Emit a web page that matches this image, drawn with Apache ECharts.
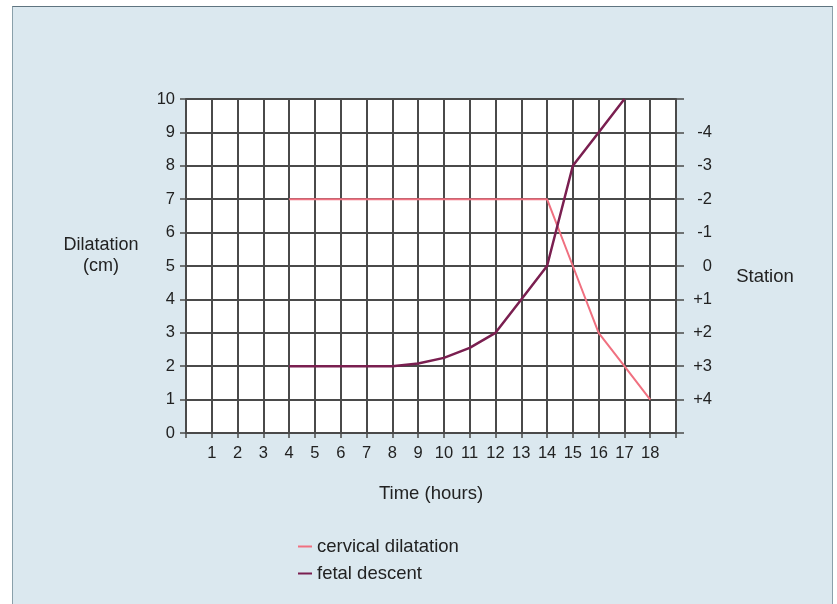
<!DOCTYPE html>
<html>
<head>
<meta charset="utf-8">
<script src="https://cdn.jsdelivr.net/npm/echarts@6/dist/echarts.min.js"></script>
<style>
  html, body { margin: 0; padding: 0; background: #fff; }
  #panel {
    position: absolute; left: 12px; top: 6px; width: 819px; height: 598px;
    background: #dbe8ef; border-top: 1px solid #5f7480;
    border-left: 1px solid #8aa0aa; border-right: 1px solid #8aa0aa;
  }
  #main { position: absolute; left: 0; top: 0; width: 837px; height: 604px; }
</style>
</head>
<body>
<div id="panel"></div>
<div id="main"></div>
<script>
var hours = [4, 5, 6, 7, 8, 9, 10, 11, 12, 13, 14, 15, 16, 17, 18];
var cervical = [7, 7, 7, 7, 7, 7, 7, 7, 7, 7, 7, 5, 3, 2, 1];
var fetalHours = [4, 5, 6, 7, 8, 9, 10, 11, 12, 13, 14, 15, 16, 17];
var fetal = [2, 2, 2, 2, 2, 2.08, 2.25, 2.55, 3, 4, 5, 8, 9, 10];
// right axis: dilatation value -> station label
var stationLabels = { 1: "+4", 2: "+3", 3: "+2", 4: "+1", 5: "0", 6: "-1", 7: "-2", 8: "-3", 9: "-4" };

var font = "Liberation Sans";
var gridColor = "#4a4a4a";
var textColor = "#222";

var chartDom = document.getElementById("main");
var myChart = echarts.init(chartDom, null, { renderer: "canvas" });

function pairs(xs, ys) {
  return xs.map(function (x, i) { return [x, ys[i]]; });
}

var option = {
  backgroundColor: "transparent",
  animation: false,
  textStyle: { fontFamily: font },
  grid: {
    left: 186, right: 161, top: 99, bottom: 171,
    show: true, backgroundColor: "#fff", borderWidth: 0
  },
  legend: {
    orient: "vertical",
    left: 293,
    top: 532,
    itemGap: 8,
    icon: "rect",
    itemWidth: 14,
    itemHeight: 2,
    textStyle: { fontFamily: font, fontSize: 18.5, color: textColor },
    data: ["cervical dilatation", "fetal descent"]
  },
  xAxis: {
    type: "value",
    min: 0, max: 19, interval: 1,
    name: "Time (hours)",
    nameLocation: "middle",
    nameGap: 51,
    nameTextStyle: { fontFamily: font, fontSize: 18.5, color: textColor },
    axisLine: { show: true, lineStyle: { color: gridColor, width: 2 } },
    axisTick: { show: true, length: 5, lineStyle: { color: gridColor, width: 1.5 } },
    axisLabel: {
      fontFamily: font, fontSize: 16.5, color: textColor, margin: 12,
      formatter: function (v) { return v >= 1 && v <= 18 ? String(v) : ""; }
    },
    splitLine: { show: true, lineStyle: { color: gridColor, width: 2 } }
  },
  yAxis: [
    {
      type: "value",
      min: 0, max: 10, interval: 1,
      name: "Dilatation\n(cm)\n",
      nameLocation: "middle",
      nameRotate: 0,
      nameGap: 85,
      nameTextStyle: {
        fontFamily: font, fontSize: 18, color: textColor, align: "center",
        lineHeight: 21
      },
      axisLine: { show: true, lineStyle: { color: gridColor, width: 2 } },
      axisTick: { show: true, length: 6, lineStyle: { color: gridColor, width: 1.5 } },
      axisLabel: { fontFamily: font, fontSize: 16.5, color: textColor, margin: 11 },
      splitLine: { show: true, lineStyle: { color: gridColor, width: 2 } }
    },
    {
      type: "value",
      min: 0, max: 10, interval: 1,
      position: "right",
      name: "\nStation",
      nameLocation: "middle",
      nameRotate: 0,
      nameGap: 89,
      nameTextStyle: {
        fontFamily: font, fontSize: 18.5, color: textColor, align: "center",
        lineHeight: 22
      },
      axisLine: { show: true, lineStyle: { color: gridColor, width: 2 } },
      axisTick: { show: true, length: 8, lineStyle: { color: gridColor, width: 1.5 } },
      axisLabel: {
        fontFamily: font, fontSize: 16.5, color: textColor, margin: 36, align: "right",
        formatter: function (v) { return stationLabels[v] || ""; }
      },
      splitLine: { show: false }
    }
  ],
  series: [
    {
      name: "cervical dilatation",
      type: "line",
      data: pairs(hours, cervical),
      symbol: "none",
      itemStyle: { color: "#f07080" },
      lineStyle: { color: "#f07080", width: 2 },
      z: 3
    },
    {
      name: "fetal descent",
      type: "line",
      data: pairs(fetalHours, fetal),
      symbol: "none",
      itemStyle: { color: "#7a1f50" },
      lineStyle: { color: "#7a1f50", width: 2.5 },
      z: 4
    }
  ]
};

option && myChart.setOption(option);
</script>
</body>
</html>
